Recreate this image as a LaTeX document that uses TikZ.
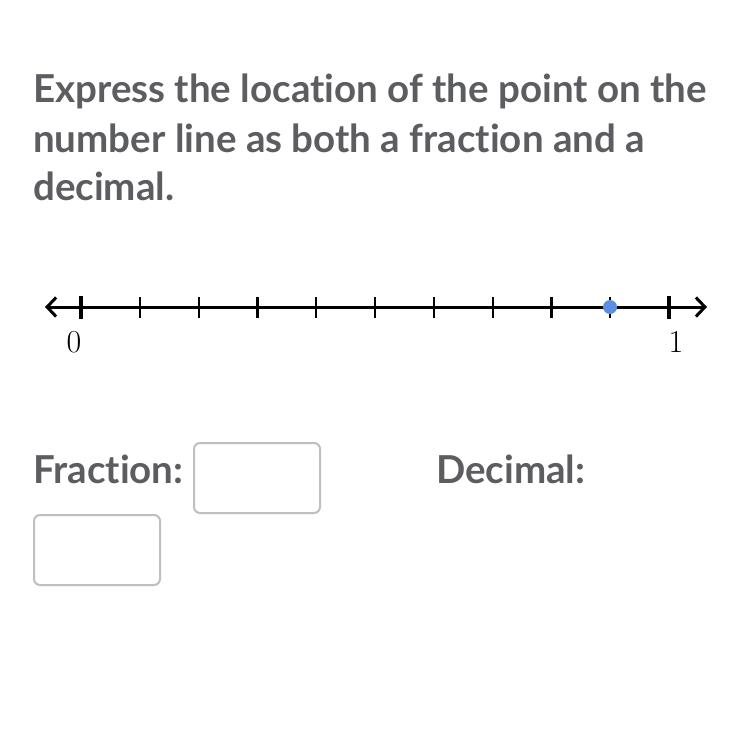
\documentclass[tikz,border=0pt]{standalone}
\usepackage{fontspec}
\setsansfont{Lato}[Ligatures=NoCommon]
\usetikzlibrary{arrows.meta}
\definecolor{qgrey}{HTML}{5C5D61}
\definecolor{boxgrey}{HTML}{BFBFBF}
\definecolor{dotblue}{HTML}{5B8FE3}

\begin{document}
\begin{tikzpicture}[x=1pt,y=-1pt,
  qtext/.style={font=\sffamily\bfseries\fontsize{38.5}{50}\selectfont, text=qgrey, inner sep=0pt, anchor=base west},
  ansbox/.style={draw=boxgrey, line width=2pt, rounded corners=6pt, minimum width=126pt, minimum height=70pt, inner sep=0pt, anchor=north west},
  numlabel/.style={font=\fontsize{32}{32}\selectfont, inner sep=0pt, anchor=base}]
\fill[white] (0,0) rectangle (750,750);
% question
\node[qtext] (line1) at (33,102) {Express the location of the point on the};
\node[qtext] (line2) at (33,152) {number line as both a fraction and a};
\node[qtext] (line3) at (33,200) {decimal.};

% number line
\coordinate (lend) at (45,307);
\coordinate (rend) at (707,307);
\draw[line width=3pt, {Straight Barb[length=9pt,width=19pt]}-{Straight Barb[length=9pt,width=19pt]}] (lend) -- (rend);
\foreach \i in {1,...,9} {%
  \draw[line width=2.2pt] ({81+58.8*\i},297) -- ++(0,21);
}
\draw[line width=4.5pt] (81,296) -- (81,319);
\draw[line width=4.5pt] (669,296) -- (669,319);
\node[circle, fill=dotblue, minimum size=14pt, inner sep=0pt] (pt) at (610,307) {};
\node[numlabel] (lzero) at (74,352) {0};
\node[numlabel] (lone) at (676,352) {1};

% answers
\node[qtext] (frac) at (33,483) {Fraction:};
\node[ansbox] (fracbox) at (193,442) {};
\node[qtext] (dec) at (436,483) {Decimal:};
\node[ansbox] (decbox) at (33,514) {};
\end{tikzpicture}
\end{document}
